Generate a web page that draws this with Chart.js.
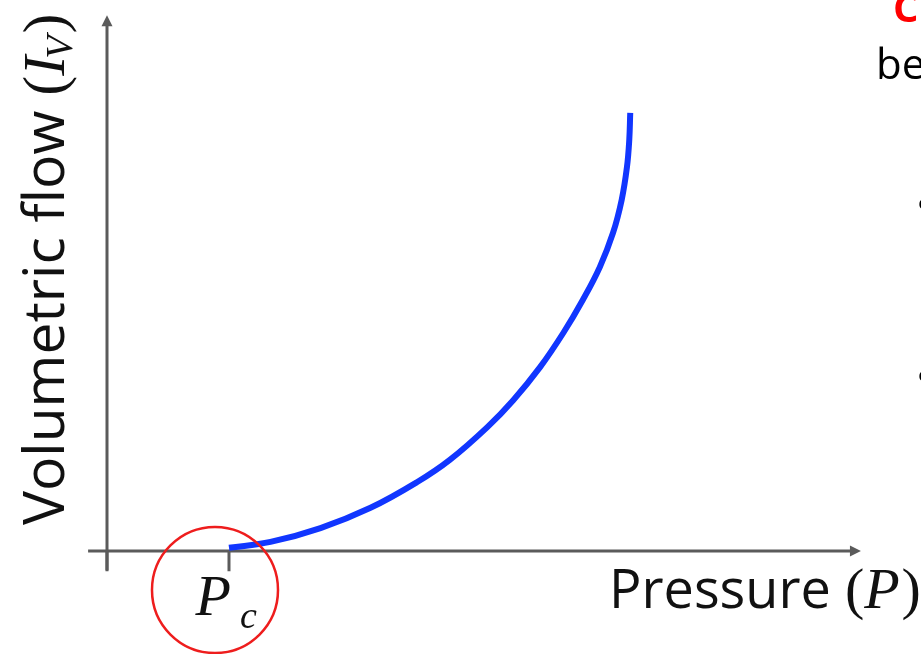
<!DOCTYPE html>
<html>
<head>
<meta charset="utf-8">
<script src="https://cdn.jsdelivr.net/npm/chart.js@4/dist/chart.umd.min.js"></script>
<style>
  html, body { margin: 0; padding: 0; background: #fff; }
  #wrap { width: 921px; height: 654px; }
</style>
</head>
<body>
<div id="wrap"><canvas id="grafica" width="921" height="654"></canvas></div>
<script>
// curve (pressure in units of Pc, flow in arbitrary units)
const pressure = [1.00, 1.34, 1.75, 2.16, 2.54, 2.81, 3.12, 3.33, 3.55, 3.74, 3.90, 4.04, 4.148, 4.219, 4.262, 4.281, 4.289];
const flow     = [0.06, 0.17, 0.43, 0.81, 1.29, 1.71, 2.33, 2.83, 3.45, 4.09, 4.71, 5.33, 5.97, 6.59, 7.20, 7.71, 8.22];

const tickValues = [0, 1];      // origin and critical pressure
const criticalPressure = 1;

const axisColor = '#5b5b5b';
const curveColor = '#1136ff';

const points = pressure.map((p, i) => ({x: p, y: flow[i]}));

// axes with arrows, ticks, the circled Pc and the labels
const sketchPlugin = {
  id: 'sketch',
  beforeDatasetsDraw(chart) {
    const ctx = chart.ctx;
    const xs = chart.scales.x, ys = chart.scales.y;
    const x0 = xs.getPixelForValue(0), y0 = ys.getPixelForValue(0);
    ctx.save();
    ctx.strokeStyle = axisColor;
    ctx.fillStyle = axisColor;
    ctx.lineWidth = 3;

    // y axis
    const yTop = ys.getPixelForValue(10.05);
    ctx.beginPath();
    ctx.moveTo(x0, ys.getPixelForValue(-0.36));
    ctx.lineTo(x0, yTop + 9);
    ctx.stroke();
    ctx.beginPath();
    ctx.moveTo(x0, yTop);
    ctx.lineTo(x0 - 5.5, yTop + 11);
    ctx.lineTo(x0 + 5.5, yTop + 11);
    ctx.closePath();
    ctx.fill();

    // x axis
    const xRight = xs.getPixelForValue(6.18);
    ctx.beginPath();
    ctx.moveTo(xs.getPixelForValue(-0.155), y0);
    ctx.lineTo(xRight - 9, y0);
    ctx.stroke();
    ctx.beginPath();
    ctx.moveTo(xRight, y0);
    ctx.lineTo(xRight - 11, y0 - 5.5);
    ctx.lineTo(xRight - 11, y0 + 5.5);
    ctx.closePath();
    ctx.fill();

    // ticks
    tickValues.forEach(v => {
      const px = xs.getPixelForValue(v);
      ctx.beginPath();
      ctx.moveTo(px, y0);
      ctx.lineTo(px, ys.getPixelForValue(-0.38));
      ctx.stroke();
    });
    ctx.restore();
  },
  afterDatasetsDraw(chart) {
    const ctx = chart.ctx;
    const xs = chart.scales.x, ys = chart.scales.y;
    const area = chart.chartArea;
    const pcX = xs.getPixelForValue(criticalPressure);
    const y0 = ys.getPixelForValue(0);
    ctx.save();

    // red circle around Pc
    ctx.strokeStyle = '#ee1d1d';
    ctx.lineWidth = 2.5;
    ctx.beginPath();
    ctx.arc(pcX - 14, y0 + 39, 63, 0, Math.PI * 2);
    ctx.stroke();

    // Pc tick label
    ctx.fillStyle = '#111';
    ctx.textBaseline = 'alphabetic';
    ctx.textAlign = 'right';
    ctx.font = 'italic 58px "Liberation Serif"';
    ctx.fillText('P', pcX + 2, y0 + 64);
    ctx.textAlign = 'left';
    ctx.font = 'italic 38px "Liberation Serif"';
    ctx.fillText('c', pcX + 11, y0 + 77);

    // x axis title
    ctx.font = '54px "Open Sans"';
    let tx = 609, ty = y0 + 57;
    ctx.fillText('Pressure ', tx, ty);
    tx += ctx.measureText('Pressure ').width;
    ctx.font = '58px "Liberation Serif"';
    ctx.fillText('(', tx, ty);
    tx += ctx.measureText('(').width;
    ctx.font = 'italic 58px "Liberation Serif"';
    ctx.fillText('P', tx, ty);
    tx += ctx.measureText('P').width + 2;
    ctx.font = '58px "Liberation Serif"';
    ctx.fillText(')', tx, ty);

    // y axis title (rotated)
    ctx.save();
    ctx.translate(area.left - 43, area.bottom - 26);
    ctx.rotate(-Math.PI / 2);
    let ly = 0;
    ctx.font = '57px "Open Sans"';
    ctx.fillText('Volumetric flow ', ly, 0);
    ly += ctx.measureText('Volumetric flow ').width;
    ctx.font = '60px "Liberation Serif"';
    ctx.fillText('(', ly, 0);
    ly += ctx.measureText('(').width;
    ctx.font = 'italic 60px "Liberation Serif"';
    ctx.fillText('I', ly, 0);
    ly += ctx.measureText('I').width - 3;
    ctx.font = 'italic 38px "Liberation Serif"';
    ctx.fillText('V', ly, 8);
    ly += ctx.measureText('V').width + 2;
    ctx.font = '60px "Liberation Serif"';
    ctx.fillText(')', ly, 0);
    ctx.restore();

    // slide text cut off at the right edge
    ctx.fillStyle = '#f00';
    ctx.font = 'bold 40px "Open Sans"';
    ctx.fillText('C', 893, 22);
    ctx.fillStyle = '#000';
    ctx.font = '42px "Open Sans"';
    ctx.fillText('be', 876, 79);
    ctx.font = '40px "Open Sans"';
    ctx.fillText('\u2022', 916, 219);
    ctx.fillText('\u2022', 916, 391);
    ctx.restore();
  }
};

new Chart(document.getElementById('grafica'), {
  type: 'scatter',
  data: {
    datasets: [{
      data: points,
      showLine: true,
      borderColor: curveColor,
      borderWidth: 6,
      pointRadius: 0,
      tension: 0.4,
      borderCapStyle: 'butt',
      clip: false
    }]
  },
  options: {
    responsive: false,
    animation: false,
    layout: { padding: { left: 107, right: 63, top: 18, bottom: 103 } },
    plugins: { legend: { display: false }, tooltip: { enabled: false } },
    scales: {
      x: { type: 'linear', display: false, min: 0, max: 6.156 },
      y: { type: 'linear', display: false, min: 0, max: 10 }
    }
  },
  plugins: [sketchPlugin]
});
</script>
</body>
</html>
